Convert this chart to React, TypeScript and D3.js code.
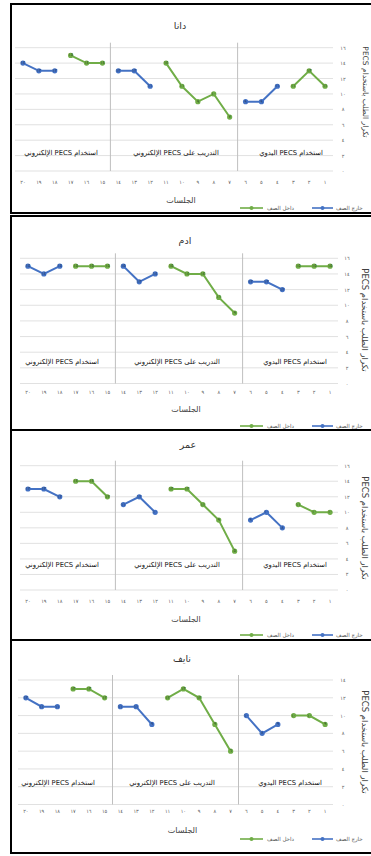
import React, { useEffect } from 'react';
import * as d3 from 'd3';

const sessions = [1, 2, 3, 4, 5, 6, 7, 8, 9, 10, 11, 12, 13, 14, 15, 16, 17, 18, 19, 20];
const studentNames = ['دانا', 'ادم', 'عمر', 'نايف'];
const seriesNames = ['داخل الصف', 'خارج الصف'];
const phaseLabels = ['استخدام PECS اليدوي', 'التدريب على PECS الإلكتروني', 'استخدام PECS الإلكتروني'];
const phaseBreaks = [6, 14];
const xAxisTitle = 'الجلسات';
const yAxisTitle = 'تكرار الطلب باستخدام PECS';

const danaInside = [11, 13, 11, null, null, null, 7, 10, 9, 11, 14, null, null, null, 14, 14, 15, null, null, null];
const danaOutside = [null, null, null, 11, 9, 9, null, null, null, null, null, 11, 13, 13, null, null, null, 13, 13, 14];
const adamInside = [15, 15, 15, null, null, null, 9, 11, 14, 14, 15, null, null, null, 15, 15, 15, null, null, null];
const adamOutside = [null, null, null, 12, 13, 13, null, null, null, null, null, 14, 13, 15, null, null, null, 15, 14, 15];
const omarInside = [10, 10, 11, null, null, null, 5, 9, 11, 13, 13, null, null, null, 12, 14, 14, null, null, null];
const omarOutside = [null, null, null, 8, 10, 9, null, null, null, null, null, 10, 12, 11, null, null, null, 12, 13, 13];
const nayefInside = [9, 10, 10, null, null, null, 6, 9, 12, 13, 12, null, null, null, 12, 13, 13, null, null, null];
const nayefOutside = [null, null, null, 9, 8, 10, null, null, null, null, null, 9, 11, 11, null, null, null, 11, 11, 12];

const yMaxes = [16, 16, 16, 14];

const insideSeries = [danaInside, adamInside, omarInside, nayefInside];
const outsideSeries = [danaOutside, adamOutside, omarOutside, nayefOutside];

const layouts = [
  { top: 4, bottom: 213, titleX: 180, titleY: 25, plotTop: 47.7, plotBottom: 171, left: 15, right: 333, xLabelY: 182, xTitleY: 200, legendY: 208, phaseY: 153, yTickX: 343, yTitleX: 365, yTitleY: 92, yTitleSize: 7.5, phaseX: [291, 176, 61] },
  { top: 216, bottom: 430, titleX: 185, titleY: 240, plotTop: 258.3, plotBottom: 383.5, left: 20, right: 338, xLabelY: 391.7, xTitleY: 409, legendY: 426, phaseY: 361.7, yTickX: 347, yTitleX: 365, yTitleY: 320, yTitleSize: 8.5, phaseX: [295, 177, 62] },
  { top: 430, bottom: 640, titleX: 188, titleY: 444, plotTop: 465.7, plotBottom: 590, left: 20, right: 338, xLabelY: 600.7, xTitleY: 619, legendY: 635, phaseY: 565, yTickX: 347, yTitleX: 365, yTitleY: 528, yTitleSize: 8.5, phaseX: [295, 177, 62] },
  { top: 640, bottom: 853, titleX: 182, titleY: 658, plotTop: 680, plotBottom: 804.5, left: 18, right: 333, xLabelY: 811, xTitleY: 830, legendY: 839, phaseY: 783.3, yTickX: 343, yTitleX: 365, yTitleY: 742, yTitleSize: 8.5, phaseX: [290, 172, 58] },
];

const BLUE = '#4472C4';
const GREEN = '#70AD47';
const FONT = "'DejaVu Sans', 'Noto Sans', sans-serif";

const arDigits = (n: number) => String(n).replace(/\d/g, (d) => '٠١٢٣٤٥٦٧٨٩'[+d]);

function Panel({ idx }: { idx: number }) {
  const L = layouts[idx];
  const yMax = yMaxes[idx];
  const x = d3.scaleBand<number>().domain(sessions).range([L.right, L.left]);
  const bw = x.bandwidth();
  const cx = (s: number) => (x(s) as number) + bw / 2;
  const y = d3.scaleLinear().domain([0, yMax]).range([L.plotBottom, L.plotTop]);
  const yTicks = d3.range(0, yMax + 1, 2);
  const line = d3
    .line<number | null>()
    .defined((d) => d != null)
    .x((_, i) => cx(sessions[i]))
    .y((d) => y(d as number));

  const series = [
    { data: outsideSeries[idx], color: BLUE, label: '#1f3a6e' },
    { data: insideSeries[idx], color: GREEN, label: '#2f5320' },
  ];

  return (
    <g>
      <rect x={11} y={L.top} width={380} height={L.bottom - L.top} fill="#fff" stroke="#000" strokeWidth={2} />
      <text x={L.titleX} y={L.titleY} textAnchor="middle" dominantBaseline="central" fontSize={9.5} fill="#333" fontFamily={FONT}>
        {studentNames[idx]}
      </text>
      {yTicks.map((t) => (
        <g key={t}>
          <line x1={L.left} x2={L.right} y1={y(t)} y2={y(t)} stroke="#d9d9d9" strokeWidth={0.8} />
          <text x={L.yTickX} y={y(t)} textAnchor="middle" dominantBaseline="central" fontSize={5} fill="#595959" fontFamily={FONT}>
            {arDigits(t)}
          </text>
        </g>
      ))}
      {phaseBreaks.map((b) => (
        <line key={b} x1={x(b) as number} x2={x(b) as number} y1={L.plotTop - 5} y2={L.plotBottom} stroke="#bfbfbf" strokeWidth={1} />
      ))}
      {phaseLabels.map((p, i) => (
        <text key={p} x={L.phaseX[i]} y={L.phaseY} textAnchor="middle" dominantBaseline="central" fontSize={6.8} fill="#111" fontFamily={FONT} direction="rtl">
          {p}
        </text>
      ))}
      {sessions.map((s) => (
        <text key={s} x={cx(s)} y={L.xLabelY} textAnchor="middle" dominantBaseline="central" fontSize={5} fill="#595959" fontFamily={FONT}>
          {arDigits(s)}
        </text>
      ))}
      <text x={(L.left + L.right) / 2 + 7} y={L.xTitleY} textAnchor="middle" dominantBaseline="central" fontSize={8} fill="#404040" fontFamily={FONT}>
        {xAxisTitle}
      </text>
      <text
        transform={`translate(${L.yTitleX},${L.yTitleY}) rotate(90)`}
        textAnchor="middle"
        dominantBaseline="central"
        fontSize={L.yTitleSize}
        fill="#404040"
        fontFamily={FONT}
        direction="rtl"
      >
        {yAxisTitle}
      </text>
      {series.map((sr, si) => (
        <g key={si}>
          <path d={line(sr.data) || ''} fill="none" stroke={sr.color} strokeWidth={2} />
          {sr.data.map((v, i) =>
            v == null ? null : (
              <g key={i}>
                <circle cx={cx(sessions[i])} cy={y(v)} r={2.6} fill={sr.color} />
                <text x={cx(sessions[i])} y={y(v) - 0.5} textAnchor="middle" dominantBaseline="central" fontSize={4.5} fill={sr.label} fontFamily={FONT}>
                  {arDigits(v)}
                </text>
              </g>
            )
          )}
        </g>
      ))}
      <g>
        <line x1={240} x2={263} y1={L.legendY} y2={L.legendY} stroke={GREEN} strokeWidth={1.6} />
        <circle cx={251.5} cy={L.legendY} r={2} fill={GREEN} />
        <text x={267} y={L.legendY} textAnchor="start" dominantBaseline="central" fontSize={5.5} fill="#595959" fontFamily={FONT}>
          {seriesNames[0]}
        </text>
        <line x1={312} x2={333} y1={L.legendY} y2={L.legendY} stroke={BLUE} strokeWidth={1.6} />
        <circle cx={322.5} cy={L.legendY} r={2} fill={BLUE} />
        <text x={336} y={L.legendY} textAnchor="start" dominantBaseline="central" fontSize={5.5} fill="#595959" fontFamily={FONT}>
          {seriesNames[1]}
        </text>
      </g>
    </g>
  );
}

export default function App() {
  useEffect(() => {
    document.body.style.margin = '0';
  }, []);
  return (
    <svg width={371} height={856} style={{ position: 'absolute', left: 0, top: 0, background: '#fff' }}>
      <rect x={0} y={0} width={371} height={856} fill="#fff" />
      {[0, 1, 2, 3].map((i) => (
        <Panel key={i} idx={i} />
      ))}
    </svg>
  );
}
